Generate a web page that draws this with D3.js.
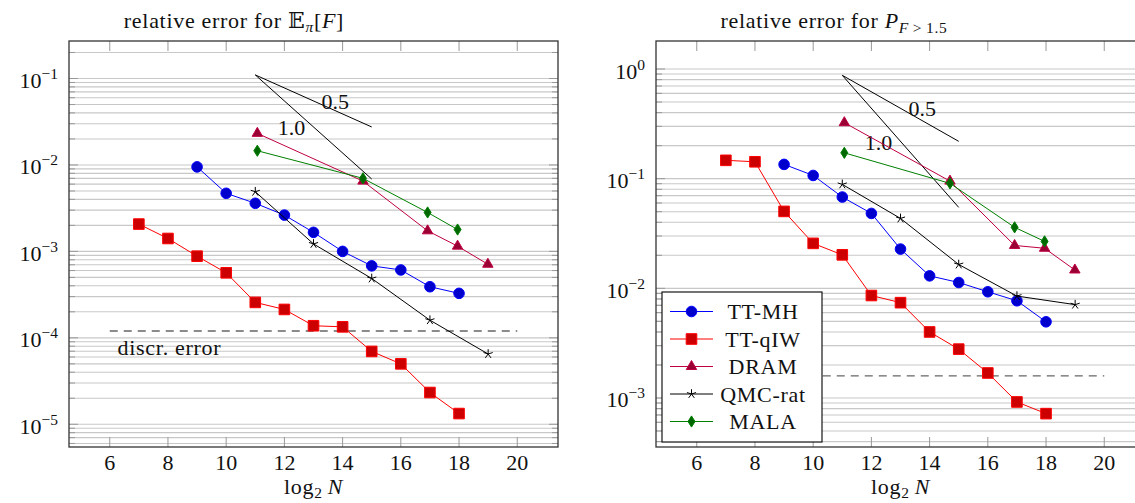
<!DOCTYPE html>
<html>
<head>
<meta charset="utf-8">
<script src="https://cdn.jsdelivr.net/npm/d3@7"></script>
<style>
  body { margin: 0; background: #fff; }
  text { font-family: 'Liberation Serif', 'DejaVu Serif', serif; fill: #111; }
  .words { letter-spacing: 0.7px; }
</style>
</head>
<body>
<svg id="chart"></svg>
<script>
const WIDTH = 1135;
const HEIGHT = 503;

// x axis: log2 N
const X_TICKS = [6, 8, 10, 12, 14, 16, 18, 20];

const N_MH = [9, 10, 11, 12, 13, 14, 15, 16, 17, 18];
const N_QIW = [7, 8, 9, 10, 11, 12, 13, 14, 15, 16, 17, 18];
const N_DRAM = [11.07, 14.7, 16.92, 17.95, 18.99];
const N_QMC = [11, 13, 15, 17, 19];
const N_MALA = [11.07, 14.7, 16.92, 17.95];

// left panel: relative error of the mean
const MEAN_MH = [9.5e-3, 4.7e-3, 3.6e-3, 2.63e-3, 1.66e-3, 1.0e-3, 6.8e-4, 6.1e-4, 3.9e-4, 3.27e-4];
const MEAN_QIW = [2.07e-3, 1.41e-3, 8.8e-4, 5.65e-4, 2.57e-4, 2.13e-4, 1.38e-4, 1.34e-4, 6.96e-5, 5.0e-5, 2.33e-5, 1.33e-5];
const MEAN_DRAM = [2.32e-2, 6.5e-3, 1.73e-3, 1.15e-3, 7.1e-4];
const MEAN_QMC = [4.9e-3, 1.22e-3, 4.86e-4, 1.6e-4, 6.5e-5];
const MEAN_MALA = [1.46e-2, 7.0e-3, 2.82e-3, 1.79e-3];
const MEAN_DISCR = 1.2e-4;
const MEAN_RATE_START = 0.11;

// right panel: relative error of the probability
const PROB_MH = [0.135, 0.107, 0.068, 0.0482, 0.0228, 0.013, 0.0113, 0.0093, 7.7e-3, 4.95e-3];
const PROB_QIW = [0.147, 0.1426, 0.0503, 0.0257, 0.0202, 8.6e-3, 7.4e-3, 4.0e-3, 2.79e-3, 1.69e-3, 9.2e-4, 7.2e-4];
const PROB_DRAM = [0.324, 0.095, 0.0246, 0.0232, 0.0147];
const PROB_QMC = [0.0887, 0.0434, 0.0165, 8.5e-3, 7.1e-3];
const PROB_MALA = [0.172, 0.0906, 0.036, 0.0268];
const PROB_DISCR = 1.59e-3;
const PROB_RATE_START = 0.876;

// reference slopes
const RATE_X = [11, 15];
const RATES = ['0.5', '1.0'];

const DISCR_X = [6, 20];

const SERIES_NAMES = ['TT-MH', 'TT-qIW', 'DRAM', 'QMC-rat', 'MALA'];

const STYLES = {
  'TT-MH': { line: 'rgb(0,0,255)', fill: 'rgb(0,0,204)', mark: 'circle' },
  'TT-qIW': { line: 'rgb(255,0,0)', fill: 'rgb(204,0,0)', mark: 'square' },
  'DRAM': { line: 'rgb(191,0,64)', fill: 'rgb(153,0,51)', mark: 'triangle' },
  'QMC-rat': { line: '#000', fill: 'none', mark: 'star' },
  'MALA': { line: 'rgb(0,128,0)', fill: 'rgb(0,102,0)', mark: 'diamond' }
};

const PLOT_W = 489;
const PLOT_TOP = 41;
const PLOT_BOTTOM = 447;

const svg = d3.select('#chart')
  .attr('width', WIDTH)
  .attr('height', HEIGHT);

function markPath(type) {
  if (type === 'circle') return d3.symbol().type(d3.symbolCircle).size(Math.PI * 5.3 * 5.3)();
  if (type === 'square') return 'M-5.3,-5.3H5.3V5.3H-5.3Z';
  if (type === 'triangle') {
    const r = 6;
    return `M0,${-r}L${r * 0.866},${r / 2}L${-r * 0.866},${r / 2}Z`;
  }
  if (type === 'diamond') return 'M0,-5.6L3.5,0L0,5.6L-3.5,0Z';
  if (type === 'star') {
    let p = '';
    for (let i = 0; i < 5; i++) {
      const a = (-90 + 72 * i) * Math.PI / 180;
      p += `M0,0L${(4.8 * Math.cos(a)).toFixed(2)},${(4.8 * Math.sin(a)).toFixed(2)}`;
    }
    return p;
  }
}

function drawMark(g, type, x, y, st) {
  g.append('path')
    .attr('d', markPath(type))
    .attr('transform', `translate(${x},${y})`)
    .attr('fill', st.fill)
    .attr('stroke', st.line)
    .attr('stroke-width', 1);
}

function drawPanel(opts) {
  const g = svg.append('g').attr('transform', `translate(${opts.left},0)`);

  const x = d3.scaleLinear().domain([4.6, 21.4]).range([0, PLOT_W]);
  const y = d3.scaleLog().domain(opts.yDomain).range([PLOT_BOTTOM, PLOT_TOP]);

  // y grid, minor + major
  const lo = Math.floor(Math.log10(opts.yDomain[0]));
  const hi = Math.ceil(Math.log10(opts.yDomain[1]));
  const major = [];
  const minor = [];
  for (let k = lo; k <= hi; k++) {
    for (let m = 1; m <= 9; m++) {
      const v = m * Math.pow(10, k);
      if (v < opts.yDomain[0] || v > opts.yDomain[1]) continue;
      (m === 1 ? major : minor).push(v);
    }
  }

  g.append('g').selectAll('line').data(minor.concat(major)).join('line')
    .attr('x1', 0).attr('x2', PLOT_W)
    .attr('y1', d => y(d)).attr('y2', d => y(d))
    .attr('stroke', '#c8c8c8').attr('stroke-width', 1.1);

  // ticks on the inside of the frame
  const tickG = g.append('g').attr('stroke', '#999').attr('stroke-width', 1);
  X_TICKS.forEach(t => {
    tickG.append('line').attr('x1', x(t)).attr('x2', x(t)).attr('y1', PLOT_BOTTOM).attr('y2', PLOT_BOTTOM - 10);
    tickG.append('line').attr('x1', x(t)).attr('x2', x(t)).attr('y1', PLOT_TOP).attr('y2', PLOT_TOP + 10);
  });
  major.forEach(v => {
    tickG.append('line').attr('x1', 0).attr('x2', 9).attr('y1', y(v)).attr('y2', y(v));
    tickG.append('line').attr('x1', PLOT_W).attr('x2', PLOT_W - 9).attr('y1', y(v)).attr('y2', y(v));
  });
  minor.forEach(v => {
    tickG.append('line').attr('x1', 0).attr('x2', 6).attr('y1', y(v)).attr('y2', y(v));
    tickG.append('line').attr('x1', PLOT_W).attr('x2', PLOT_W - 6).attr('y1', y(v)).attr('y2', y(v));
  });

  // discretisation error
  g.append('line')
    .attr('x1', x(DISCR_X[0])).attr('x2', x(DISCR_X[1]))
    .attr('y1', y(opts.discr)).attr('y2', y(opts.discr))
    .attr('stroke', '#666').attr('stroke-width', 1.3)
    .attr('stroke-dasharray', '8,6');

  if (opts.discrLabel) {
    g.append('text').attr('class', 'words')
      .attr('x', x(6.27)).attr('y', y(opts.discr) + 24)
      .attr('font-size', 22)
      .text('discr. error');
  }

  // rate triangle
  const line = d3.line().x(d => x(d[0])).y(d => y(d[1]));
  RATES.forEach(r => {
    const rate = +r;
    const pts = RATE_X.map(n => [n, opts.rateStart * Math.pow(2, -rate * (n - RATE_X[0]))]);
    g.append('path').attr('d', line(pts))
      .attr('fill', 'none').attr('stroke', '#000').attr('stroke-width', 1);
  });
  g.append('text').attr('x', x(13.75)).attr('y', y(opts.rateStart * Math.pow(10, -0.305)) + 7.5)
    .attr('text-anchor', 'middle').attr('font-size', 22).text(RATES[0]);
  g.append('text').attr('x', x(12.24)).attr('y', y(opts.rateStart * Math.pow(10, -0.61)) + 7.5)
    .attr('text-anchor', 'middle').attr('font-size', 22).text(RATES[1]);

  // series
  opts.series.forEach(s => {
    const st = STYLES[s.name];
    const pts = s.n.map((n, i) => [n, s.v[i]]);
    g.append('path').attr('d', line(pts))
      .attr('fill', 'none').attr('stroke', st.line).attr('stroke-width', 1);
    pts.forEach(p => drawMark(g, st.mark, x(p[0]), y(p[1]), st));
  });

  // frame
  g.append('rect')
    .attr('x', 0).attr('y', PLOT_TOP)
    .attr('width', PLOT_W).attr('height', PLOT_BOTTOM - PLOT_TOP)
    .attr('fill', 'none').attr('stroke', '#333').attr('stroke-width', 1.3);

  // x tick labels
  g.append('g').selectAll('text').data(X_TICKS).join('text')
    .attr('x', d => x(d)).attr('y', PLOT_BOTTOM + 23)
    .attr('text-anchor', 'middle').attr('font-size', 22)
    .text(d => d);

  // y tick labels 10^k
  major.forEach(v => {
    const k = Math.round(Math.log10(v));
    const t = g.append('text')
      .attr('x', -11).attr('y', y(v) + 9.5)
      .attr('text-anchor', 'end').attr('font-size', 22);
    t.append('tspan').text('10');
    t.append('tspan').attr('dy', -9).attr('font-size', 15.5)
      .text(k < 0 ? '\u2212' + (-k) : String(k));
  });

  // x label
  const xl = g.append('text').attr('class', 'words')
    .attr('x', PLOT_W / 2).attr('y', 494)
    .attr('text-anchor', 'middle').attr('font-size', 22);
  xl.append('tspan').text('log');
  xl.append('tspan').attr('dy', 4).attr('font-size', 15.5).text('2');
  xl.append('tspan').attr('dy', -4).text('\u2009');
  xl.append('tspan').attr('font-style', 'italic').text('N');

  // title
  const tt = g.append('text').attr('class', 'words')
    .attr('x', opts.titleX).attr('y', 28)
    .attr('text-anchor', 'middle').attr('font-size', 22);
  opts.title(tt);

  if (opts.legend) {
    const lg = svg.append('g');
    const lx = opts.left + 6, ly = 292;
    lg.append('rect').attr('x', lx).attr('y', ly).attr('width', 160).attr('height', 150)
      .attr('fill', '#fff').attr('stroke', '#000').attr('stroke-width', 1.1);
    SERIES_NAMES.forEach((name, i) => {
      const st = STYLES[name];
      const cy = ly + 19.5 + i * 27.5;
      lg.append('line').attr('x1', lx + 8).attr('x2', lx + 51)
        .attr('y1', cy).attr('y2', cy)
        .attr('stroke', st.line).attr('stroke-width', 1);
      drawMark(lg, st.mark, lx + 29.5, cy, st);
      lg.append('text').attr('class', 'words')
        .attr('x', lx + 101).attr('y', cy + 7.5)
        .attr('text-anchor', 'middle').attr('font-size', 22).text(name);
    });
  }
}

drawPanel({
  left: 69,
  yDomain: [Math.pow(10, -5.263), Math.pow(10, -0.566)],
  discr: MEAN_DISCR,
  discrLabel: true,
  rateStart: MEAN_RATE_START,
  titleX: 165,
  title: t => {
    t.append('tspan').text('relative error for ');
    t.append('tspan').text('\u{1D53C}');
    t.append('tspan').attr('dy', 4).attr('font-size', 15.5).attr('font-style', 'italic').text('\u03C0');
    t.append('tspan').attr('dy', -4).text('[');
    t.append('tspan').attr('font-style', 'italic').text('F');
    t.append('tspan').text(']');
  },
  series: [
    { name: 'TT-MH', n: N_MH, v: MEAN_MH },
    { name: 'TT-qIW', n: N_QIW, v: MEAN_QIW },
    { name: 'DRAM', n: N_DRAM, v: MEAN_DRAM },
    { name: 'QMC-rat', n: N_QMC, v: MEAN_QMC },
    { name: 'MALA', n: N_MALA, v: MEAN_MALA }
  ]
});

drawPanel({
  left: 656,
  yDomain: [Math.pow(10, -3.447), Math.pow(10, 0.2555)],
  discr: PROB_DISCR,
  discrLabel: false,
  rateStart: PROB_RATE_START,
  titleX: 178,
  legend: true,
  title: t => {
    t.append('tspan').text('relative error for ');
    t.append('tspan').attr('font-style', 'italic').text('P');
    t.append('tspan').attr('dy', 5).attr('font-size', 15.5).attr('font-style', 'italic').text('F');
    t.append('tspan').attr('font-size', 15.5).text('\u2009>\u20091.5');
  },
  series: [
    { name: 'TT-MH', n: N_MH, v: PROB_MH },
    { name: 'TT-qIW', n: N_QIW, v: PROB_QIW },
    { name: 'DRAM', n: N_DRAM, v: PROB_DRAM },
    { name: 'QMC-rat', n: N_QMC, v: PROB_QMC },
    { name: 'MALA', n: N_MALA, v: PROB_MALA }
  ]
});
</script>
</body>
</html>
